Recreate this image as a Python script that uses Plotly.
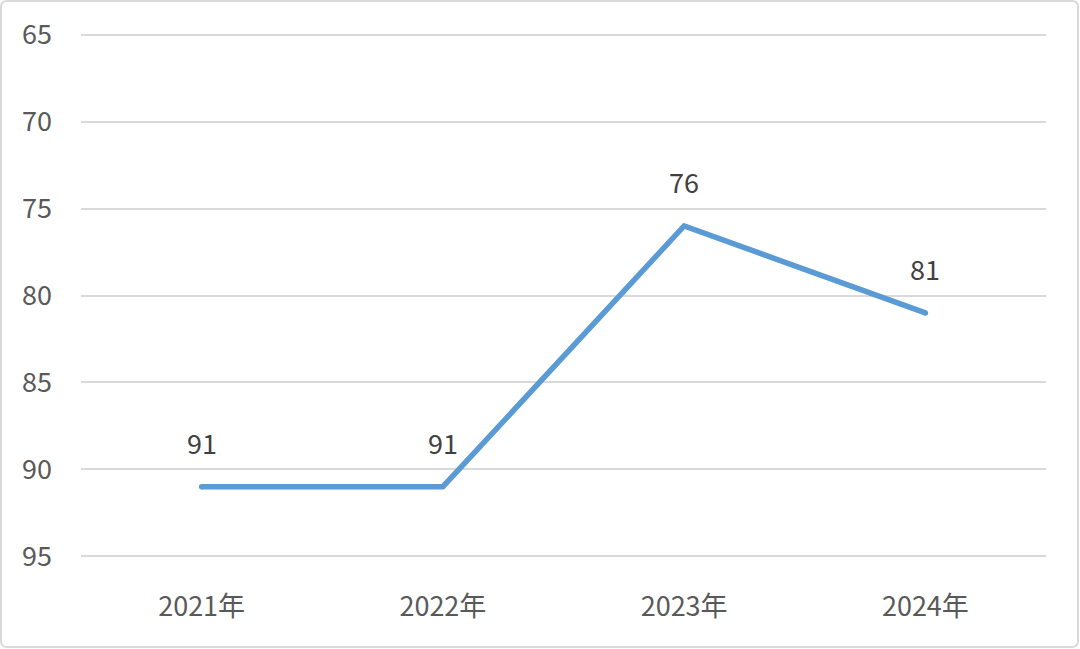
import plotly.graph_objects as go

categories = ["2021年", "2022年", "2023年", "2024年"]
values = [91, 91, 76, 81]
y_ticks = [65, 70, 75, 80, 85, 90, 95]

FONT = "Noto Sans CJK SC"
L, R, T, B = 81, 34, 33, 91
W, H = 1080, 649
pw, ph = W - L - R, H - T - B
LINE_COLOR = "#5B9BD5"

fig = go.Figure()
fig.add_trace(go.Scatter(
    x=categories, y=values, mode="lines",
    line=dict(color=LINE_COLOR, width=5.5),
    hoverinfo="skip", showlegend=False,
))
# round caps at the line ends
fig.add_trace(go.Scatter(
    x=[categories[0], categories[-1]], y=[values[0], values[-1]], mode="markers",
    marker=dict(color=LINE_COLOR, size=5.5, line=dict(width=0)),
    hoverinfo="skip", showlegend=False,
))
for c, v in zip(categories, values):
    fig.add_annotation(x=c, y=v, text=str(v), showarrow=False,
                       yshift=44, font=dict(family=FONT, size=27, color="#404040"))

# outer rounded border (in paper coordinates)
x0 = (1 - L) / pw
x1 = (W - 2 - L) / pw
y0 = -(H - 2 - (H - B)) / ph
y1 = (H - B - 1) / ph
rx = 6 / pw
ry = 6 / ph
path = (f"M {x0+rx},{y1} L {x1-rx},{y1} Q {x1},{y1} {x1},{y1-ry} "
        f"L {x1},{y0+ry} Q {x1},{y0} {x1-rx},{y0} L {x0+rx},{y0} "
        f"Q {x0},{y0} {x0},{y0+ry} L {x0},{y1-ry} Q {x0},{y1} {x0+rx},{y1} Z")
fig.add_shape(type="path", path=path, xref="paper", yref="paper",
              line=dict(color="#d9d9d9", width=2), layer="below")

fig.update_layout(
    width=W, height=H,
    margin=dict(l=L, r=R, t=T, b=B, autoexpand=False),
    paper_bgcolor="white", plot_bgcolor="white",
    font=dict(family=FONT, size=27, color="#595959"),
    xaxis=dict(range=[-0.5, 3.5], showgrid=False, showline=False, zeroline=False,
               ticks="", tickfont=dict(family=FONT, size=27, color="#595959"),
               ticklabelstandoff=30),
    yaxis=dict(range=[95.1, 64.9], tickvals=y_ticks, showgrid=True,
               gridcolor="#d9d9d9", gridwidth=1.8, zeroline=False,
               showline=False, ticks="",
               tickfont=dict(family=FONT, size=27, color="#595959"),
               ticklabelstandoff=28),
)
fig.write_html("out.html", config={"displayModeBar": False},
               post_script="document.body.style.margin='0';document.body.style.padding='0';")
